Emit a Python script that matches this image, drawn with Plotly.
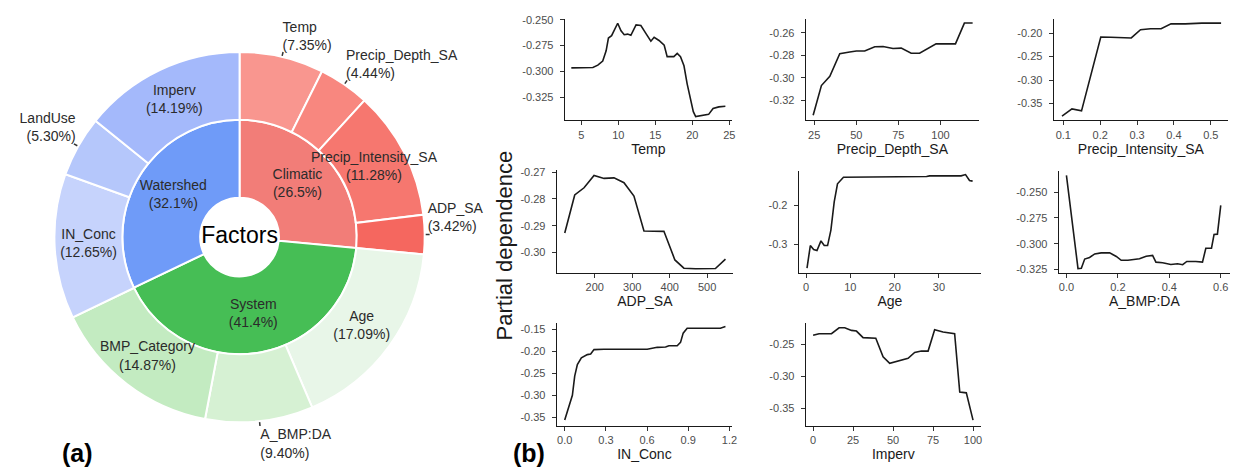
import plotly.graph_objects as go

# ---------------- (a) factor importance ----------------
inner_labels = ["Climatic", "System", "Watershed"]
inner_values = [26.5, 41.4, 32.1]
outer_labels = ["Temp", "Precip_Depth_SA", "Precip_Intensity_SA", "ADP_SA", "Age",
                "A_BMP:DA", "BMP_Category", "IN_Conc", "LandUse", "Imperv"]
outer_values = [7.35, 4.44, 11.28, 3.42, 17.09, 9.40, 14.87, 12.65, 5.30, 14.19]
center_label = "Factors"

# ---------------- (b) partial dependence ----------------
temp_x = [3.66, 5.0, 6.57, 7.24, 7.9, 8.36, 8.67, 9.1, 9.92, 10.37, 10.8, 11.26, 11.7, 12.4, 13.05, 13.7, 14.4,
          14.84, 15.5, 16.2, 16.6, 17.5, 17.96, 18.4, 18.87, 19.3, 19.77, 20.13, 20.45, 21.33, 22.2, 22.8, 23.57, 24.46]
temp_y = [-0.2966, -0.2966, -0.2963, -0.294, -0.290, -0.280, -0.2676, -0.2653, -0.2532, -0.2605, -0.2644, -0.2638,
          -0.265, -0.2548, -0.2554, -0.2628, -0.2707, -0.2669, -0.270, -0.2746, -0.2857, -0.2857, -0.2826, -0.2857,
          -0.2946, -0.3122, -0.328, -0.3393, -0.3441, -0.3432, -0.3419, -0.3362, -0.3346, -0.334]

depth_x = [24.4, 29.3, 34.3, 40.2, 46.1, 50.1, 55, 61, 65.9, 71.8, 76.7, 82.6, 87.6, 92.5, 97.4, 103.4, 108.9, 114.2, 119.1]
depth_y = [-0.3332, -0.3068, -0.2986, -0.2784, -0.277, -0.2761, -0.2761, -0.2723, -0.272, -0.2738, -0.2735, -0.2781,
           -0.2781, -0.274, -0.2697, -0.2697, -0.2697, -0.2512, -0.2512]

intens_x = [0.0964, 0.1234, 0.1494, 0.2016, 0.2285, 0.2555, 0.2843, 0.3094, 0.3364, 0.3652, 0.3921, 0.4308, 0.4757, 0.5279]
intens_y = [-0.3766, -0.3612, -0.3654, -0.2084, -0.2091, -0.2105, -0.2105, -0.193, -0.1909, -0.1909, -0.1805, -0.1805,
            -0.179, -0.179]

adp_x = [120.1, 146.7, 171.6, 198.2, 224.9, 251.5, 278.1, 304.7, 331.4, 358, 384.6, 413.9, 437.9, 469, 495.6, 522, 548.8]
adp_y = [-0.2927, -0.2785, -0.2758, -0.2712, -0.2723, -0.2721, -0.2739, -0.2789, -0.292, -0.292, -0.2921, -0.3028,
         -0.3059, -0.3061, -0.3061, -0.306, -0.3025]

age_x = [0.22, 0.97, 1.72, 2.47, 3.37, 4.11, 4.86, 5.61, 6.36, 7.1, 8.45, 10.7, 16.7, 22.7, 27.2, 27.9, 31.6, 35, 36,
         36.9, 37.6]
age_y = [-0.361, -0.3034, -0.3136, -0.3161, -0.2915, -0.3034, -0.3034, -0.2636, -0.1915, -0.1449, -0.128, -0.128,
         -0.1263, -0.1263, -0.1263, -0.1246, -0.1246, -0.1246, -0.1212, -0.1364, -0.138]

abmp_x = [0, 0.045, 0.058, 0.071, 0.090, 0.110, 0.135, 0.168, 0.194, 0.213, 0.239, 0.284, 0.310, 0.335, 0.348, 0.374,
          0.406, 0.432, 0.452, 0.468, 0.503, 0.529, 0.542, 0.564, 0.574, 0.587, 0.6]
abmp_y = [-0.2339, -0.324, -0.3237, -0.3148, -0.3133, -0.3098, -0.3088, -0.3088, -0.3123, -0.316, -0.316, -0.3145,
          -0.312, -0.3113, -0.3178, -0.3184, -0.32, -0.3193, -0.3203, -0.3171, -0.3171, -0.3178, -0.3043, -0.3043,
          -0.291, -0.2907, -0.2629]

inconc_x = [0, 0.0315, 0.0558, 0.0727, 0.0921, 0.1212, 0.1648, 0.189, 0.2133, 0.286, 0.5285, 0.601, 0.674, 0.735,
            0.7588, 0.8194, 0.8436, 0.863, 0.892, 0.94, 1.134, 1.171]
inconc_y = [-0.356, -0.3238, -0.3, -0.2564, -0.2301, -0.2152, -0.2077, -0.2062, -0.1964, -0.1957, -0.1957, -0.1957,
            -0.1912, -0.1905, -0.1875, -0.1875, -0.18, -0.159, -0.1478, -0.1478, -0.1478, -0.144]

imperv_x = [0, 3.75, 11.5, 16.25, 19.8, 24, 27.1, 31.25, 39.2, 43.75, 47.9, 54.2, 59.4, 63.5, 67.7, 71.9, 76, 81.25,
            88.5, 91.7, 95.8, 100]
imperv_y = [-0.2356, -0.233, -0.233, -0.2237, -0.2237, -0.2278, -0.2289, -0.2392, -0.2402, -0.2691, -0.2794, -0.2753,
            -0.2716, -0.2624, -0.2603, -0.2603, -0.2268, -0.2304, -0.233, -0.3247, -0.3258, -0.3686]

panel_titles = ["Temp", "Precip_Depth_SA", "Precip_Intensity_SA", "ADP_SA", "Age", "A_BMP:DA", "IN_Conc", "Imperv"]
x_ticks = [[5, 10, 15, 20, 25], [25, 50, 75, 100], [0.1, 0.2, 0.3, 0.4, 0.5], [200, 300, 400, 500],
           [0, 10, 20, 30], [0.0, 0.2, 0.4, 0.6], [0.0, 0.3, 0.6, 0.9, 1.2], [0, 25, 50, 75, 100]]
x_ticktext = [["5", "10", "15", "20", "25"], ["25", "50", "75", "100"], ["0.1", "0.2", "0.3", "0.4", "0.5"],
              ["200", "300", "400", "500"], ["0", "10", "20", "30"], ["0.0", "0.2", "0.4", "0.6"],
              ["0.0", "0.3", "0.6", "0.9", "1.2"], ["0", "25", "50", "75", "100"]]
y_ticks = [[-0.325, -0.300, -0.275, -0.250], [-0.32, -0.30, -0.28, -0.26], [-0.35, -0.30, -0.25, -0.20],
           [-0.30, -0.29, -0.28, -0.27], [-0.3, -0.2], [-0.325, -0.300, -0.275, -0.250],
           [-0.35, -0.30, -0.25, -0.20, -0.15], [-0.35, -0.30, -0.25]]
y_ticktext = [["-0.325", "-0.300", "-0.275", "-0.250"], ["-0.32", "-0.30", "-0.28", "-0.26"],
              ["-0.35", "-0.30", "-0.25", "-0.20"], ["-0.30", "-0.29", "-0.28", "-0.27"], ["-0.3", "-0.2"],
              ["-0.325", "-0.300", "-0.275", "-0.250"], ["-0.35", "-0.30", "-0.25", "-0.20", "-0.15"],
              ["-0.35", "-0.30", "-0.25"]]

series = [(temp_x, temp_y), (depth_x, depth_y), (intens_x, intens_y), (adp_x, adp_y),
          (age_x, age_y), (abmp_x, abmp_y), (inconc_x, inconc_y), (imperv_x, imperv_y)]

# ---------------- layout / style ----------------
OFF = 8                      # default page body margin
FW, FH = 1230, 463           # figure size so that page fits the 1238x471 window
FONT = "Arial, Liberation Sans, sans-serif"
inner_colors = ["#F27D78", "#46BE55", "#6F9BF8"]
outer_colors = ["#F9968F", "#F8877F", "#F6776F", "#F5675F", "#E8F6E8", "#D6F1D3", "#C3EBC1",
                "#C6D3FC", "#B5C7FB", "#A4B9FB"]
outer_text_pos = ["top right", "top right", "middle center", "top right", "middle center",
                  "bottom right", "middle center", "middle center", "top left", "middle center"]
R_HOLE, R_MID, R_OUT, R_LBL, R_MAX = 40, 119, 188, 191, 225
CX, CY = 240.5, 235.5
# panel boxes in window pixels: left, right, top, bottom
boxes = [(567, 735, 14, 117), (809, 983, 14, 117), (1058, 1233, 14, 117),
         (559, 736, 167, 272), (802, 985, 168, 272), (1063, 1235, 168, 272),
         (559, 735, 323, 427), (809, 985, 323, 427)]
title_standoff = [1, 1, 1, 0, 0, 0, 2, 2]
x_ranges = [[2.77, 25.36], [20.0, 122.9], [0.074, 0.5467], [98.8, 569], [-1.64, 39.5], [-0.03, 0.636],
            [-0.058, 1.219], [-4.6, 105]]
y_ranges = [[-0.3477, -0.249], [-0.3378, -0.2475], [-0.3856, -0.170], [-0.3077, -0.269], [-0.3738, -0.111],
            [-0.3283, -0.2292], [-0.369, -0.1365], [-0.3773, -0.2166]]


def px(x):
    return (x - OFF) / FW


def py(y):
    return 1 - (y - OFF) / FH


def wedges(values):
    tot = sum(values)
    widths = [v * 360.0 / tot for v in values]
    centers, acc = [], 0.0
    for w in widths:
        centers.append(acc + w / 2)
        acc += w
    return centers, widths


fig = go.Figure()

ic, iw = wedges(inner_values)
oc, ow = wedges(outer_values)

fig.add_trace(go.Barpolar(theta=ic, width=iw, r=[R_MID - R_HOLE] * len(ic), base=R_HOLE,
                          marker=dict(color=inner_colors, line=dict(color="white", width=2)),
                          hoverinfo="skip", showlegend=False))
fig.add_trace(go.Barpolar(theta=oc, width=ow, r=[R_OUT - R_MID] * len(oc), base=R_MID,
                          marker=dict(color=outer_colors, line=dict(color="white", width=2)),
                          hoverinfo="skip", showlegend=False))

# inner labels
fig.add_trace(go.Scatterpolar(r=[(R_HOLE + R_MID) / 2] * 3, theta=ic, mode="text", cliponaxis=False,
                              text=[f"{l}<br>({v:.1f}%)" for l, v in zip(inner_labels, inner_values)],
                              textposition="middle center",
                              textfont=dict(family=FONT, size=14, color="#2b2b2b"),
                              hoverinfo="skip", showlegend=False))
# outer labels
o_r = [(R_MID + R_OUT) / 2 if p == "middle center" else (R_LBL + 5 if p.startswith("bottom") else R_LBL)
       for p in outer_text_pos]
fig.add_trace(go.Scatterpolar(r=o_r, theta=oc, mode="text", cliponaxis=False,
                              text=[f"{l}<br>({v:.2f}%)" for l, v in zip(outer_labels, outer_values)],
                              textposition=outer_text_pos,
                              textfont=dict(family=FONT, size=14, color="#2b2b2b"),
                              hoverinfo="skip", showlegend=False))
# small leader ticks for outside labels
for p, t in zip(outer_text_pos, oc):
    if p != "middle center":
        fig.add_trace(go.Scatterpolar(r=[R_OUT + 1, R_LBL + 2], theta=[t, t], mode="lines", cliponaxis=False,
                                      line=dict(color="#333333", width=1.5),
                                      hoverinfo="skip", showlegend=False))
# centre label
fig.add_trace(go.Scatterpolar(r=[0], theta=[0], mode="text", text=[center_label], cliponaxis=False,
                              textposition="middle center",
                              textfont=dict(family=FONT, size=23, color="#000000"),
                              hoverinfo="skip", showlegend=False))

layout = dict(
    width=FW, height=FH, margin=dict(l=0, r=0, t=0, b=0),
    paper_bgcolor="white", plot_bgcolor="white", showlegend=False,
    font=dict(family=FONT),
    polar=dict(domain=dict(x=[px(CX - R_MAX), px(CX + R_MAX)], y=[py(CY + R_MAX), py(CY - R_MAX)]),
               bgcolor="white", bargap=0,
               radialaxis=dict(visible=False, range=[0, R_MAX]),
               angularaxis=dict(visible=False, direction="clockwise", rotation=90)),
)

for i, ((xs, ys), (l, r, t, b)) in enumerate(zip(series, boxes)):
    k = "" if i == 0 else str(i + 1)
    fig.add_trace(go.Scatter(x=xs, y=ys, mode="lines", line=dict(color="#1a1a1a", width=1.6),
                             xaxis="x" + k, yaxis="y" + k, hoverinfo="skip", showlegend=False))
    common = dict(showline=True, linecolor="#1a1a1a", linewidth=1.2, ticks="outside", ticklen=4,
                  tickwidth=1, tickcolor="#333333", showgrid=False, zeroline=False,
                  tickfont=dict(family=FONT, size=11, color="#4d4d4d"))
    layout["xaxis" + k] = dict(common, domain=[px(l), px(r)], anchor="y" + k, range=x_ranges[i],
                               tickvals=x_ticks[i], ticktext=x_ticktext[i],
                               title=dict(text=panel_titles[i], standoff=title_standoff[i],
                                          font=dict(family=FONT, size=14, color="#1a1a1a")))
    layout["yaxis" + k] = dict(common, domain=[py(b), py(t)], anchor="x" + k, range=y_ranges[i],
                               tickvals=y_ticks[i], ticktext=y_ticktext[i], ticklabelstandoff=4)

layout["annotations"] = [
    dict(text="Partial dependence", x=px(506), y=py(244), xref="paper", yref="paper",
         xanchor="center", yanchor="middle",
         textangle=-90, showarrow=False, font=dict(family=FONT, size=22, color="#1a1a1a")),
    dict(text="<b>(a)</b>", x=px(78), y=py(455), xref="paper", yref="paper", showarrow=False,
         xanchor="center", yanchor="middle", font=dict(family=FONT, size=25, color="#000000")),
    dict(text="<b>(b)</b>", x=px(531), y=py(455), xref="paper", yref="paper", showarrow=False,
         xanchor="center", yanchor="middle", font=dict(family=FONT, size=25, color="#000000")),
]

fig.update_layout(**layout)
fig.write_html("out.html")
